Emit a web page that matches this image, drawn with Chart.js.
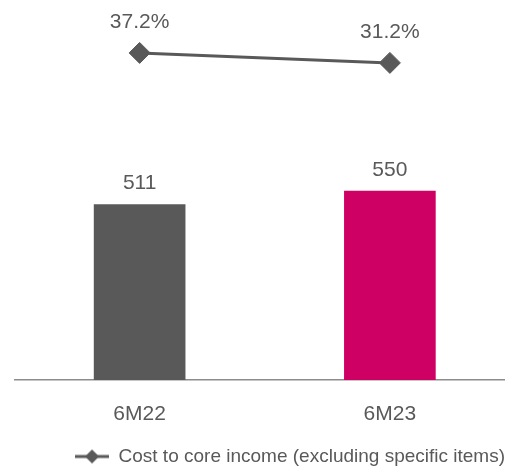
<!DOCTYPE html>
<html>
<head>
<meta charset="utf-8">
<script src="https://cdn.jsdelivr.net/npm/chart.js@4"></script>
<style>
  html, body { margin: 0; padding: 0; background: #ffffff; }
  #wrap { width: 505px; height: 468px; overflow: hidden; position: relative; }
  canvas { display: block; }
</style>
</head>
<body>
<div id="wrap"><canvas id="c" width="515" height="476"></canvas></div>
<script>
// Periods and figures
const periods = ['6M22', '6M23'];
const operatingExpenses = [511, 550];
const costToCoreIncome = [37.2, 31.2];
const legendLabel = 'Cost to core income (excluding specific items)';

const GREY = '#595959';
const MAGENTA = '#CF0063';
const FONT = '"Liberation Sans", Arial, sans-serif';

// Legend marker: short line with a diamond in the middle
function lineDiamondMarker() {
  const m = document.createElement('canvas');
  m.width = 34; m.height = 16;
  const g = m.getContext('2d');
  g.strokeStyle = GREY; g.lineWidth = 3;
  g.beginPath(); g.moveTo(0, 8); g.lineTo(34, 8); g.stroke();
  g.fillStyle = GREY;
  g.beginPath(); g.moveTo(17, 1); g.lineTo(24, 8); g.lineTo(17, 15); g.lineTo(10, 8); g.closePath(); g.fill();
  return m;
}
const marker = lineDiamondMarker();

// Value labels above bars and points
const valueLabels = {
  id: 'valueLabels',
  afterDatasetsDraw(chart) {
    const ctx = chart.ctx;
    ctx.save();
    ctx.fillStyle = GREY;
    ctx.font = '21px ' + FONT;
    ctx.textAlign = 'center';
    ctx.textBaseline = 'middle';
    chart.data.datasets.forEach((ds, i) => {
      const meta = chart.getDatasetMeta(i);
      meta.data.forEach((el, j) => {
        const v = ds.data[j];
        if (ds.type === 'line') {
          ctx.fillText(v.toFixed(1) + '%', el.x, el.y - 31);
        } else {
          ctx.fillText(String(v), el.x, el.y - 21);
        }
      });
    });
    ctx.restore();
  }
};

new Chart(document.getElementById('c'), {
  data: {
    labels: periods,
    datasets: [
      {
        type: 'line',
        label: legendLabel,
        data: costToCoreIncome,
        yAxisID: 'y2',
        borderColor: GREY,
        borderWidth: 3,
        pointStyle: 'rectRot',
        pointRadius: 10.5,
        pointBackgroundColor: GREY,
        pointBorderColor: GREY,
        pointBorderWidth: 1,
        order: 0
      },
      {
        type: 'bar',
        label: 'Operating expenses',
        data: operatingExpenses,
        yAxisID: 'y',
        backgroundColor: [GREY, MAGENTA],
        barThickness: 91,
        order: 1
      }
    ]
  },
  options: {
    responsive: false,
    animation: false,
    layout: { autoPadding: false, padding: { left: 14.5, right: 0, top: 20, bottom: 0 } },
    scales: {
      x: {
        grid: { display: false },
        border: { display: true, color: '#8C8C8C', width: 1.5 },
        ticks: { color: GREY, font: { family: FONT, size: 21 }, padding: 14 },
        afterFit(scale) { scale.height = 57; }
      },
      y: { display: false, min: 0, max: 1048 },
      y2: { display: false, min: -159.6, max: 57 }
    },
    plugins: {
      tooltip: { enabled: false },
      legend: {
        position: 'bottom',
        align: 'end',
        labels: {
          usePointStyle: true,
          pointStyleWidth: 34,
          padding: 10,
          color: GREY,
          font: { family: FONT, size: 19 },
          generateLabels() {
            return [{
              text: legendLabel,
              pointStyle: marker,
              fillStyle: GREY,
              strokeStyle: GREY,
              lineWidth: 0,
              fontColor: GREY,
              datasetIndex: 0
            }];
          }
        }
      }
    }
  },
  plugins: [valueLabels]
});
</script>
</body>
</html>
